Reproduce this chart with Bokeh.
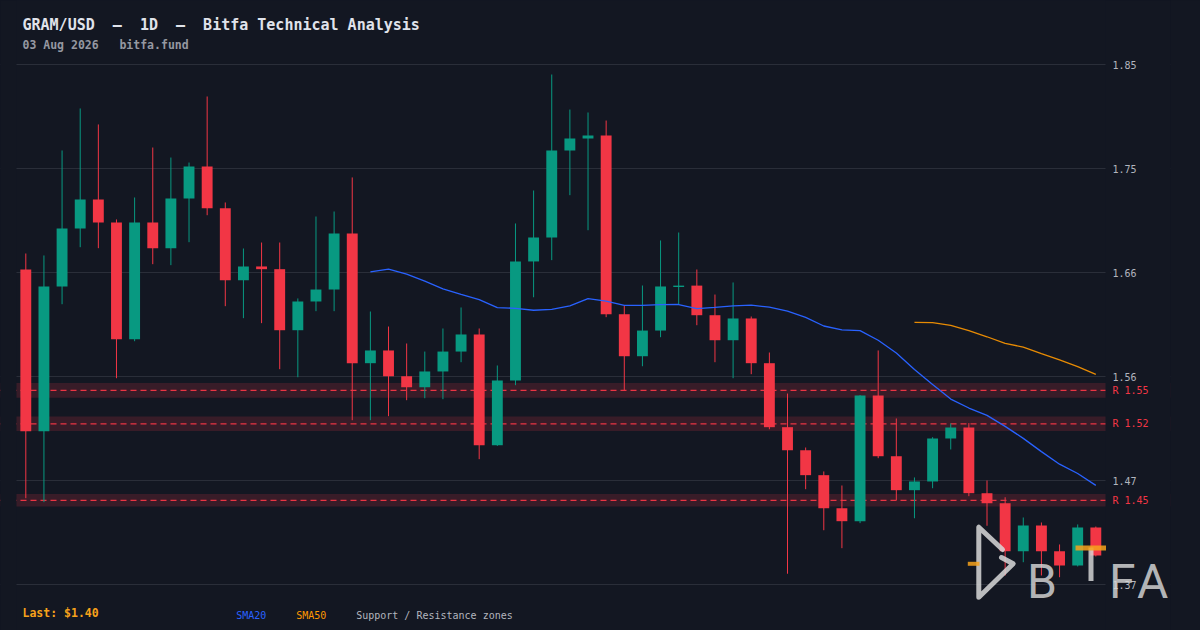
import pandas as pd
from bokeh.plotting import figure
from bokeh.models import (ColumnDataSource, Range1d, FixedTicker, PrintfTickFormatter,
                          Label, BoxAnnotation, Span, GlobalInlineStyleSheet)
from bokeh.embed import file_html
from bokeh.resources import INLINE

# ---------------- data ----------------
opens = [1.6616, 1.5130, 1.6460, 1.6993, 1.7259, 1.7048, 1.5975, 1.7048, 1.6812, 1.7269,
         1.7563, 1.7179, 1.6518, 1.6644, 1.6619, 1.6058, 1.6322, 1.6432, 1.6947, 1.5755,
         1.5872, 1.5635, 1.5534, 1.5679, 1.5862, 1.6019, 1.5001, 1.5596, 1.6690, 1.6910,
         1.7710, 1.7820, 1.7848, 1.6205, 1.5819, 1.6055, 1.6455, 1.6468, 1.6196, 1.5966,
         1.6166, 1.5755, 1.5167, 1.4955, 1.4726, 1.4422, 1.4303, 1.5458, 1.4900, 1.4588,
         1.4668, 1.5063, 1.5164, 1.4560, 1.4468, 1.4027, 1.4263, 1.4027, 1.3896, 1.4245]
highs = [1.6763, 1.6745, 1.7710, 1.8096, 1.7949, 1.7076, 1.7278, 1.7737, 1.7645, 1.7599,
         1.8206, 1.7232, 1.6809, 1.6864, 1.6864, 1.6350, 1.7103, 1.7149, 1.7462, 1.6230,
         1.6092, 1.5936, 1.5862, 1.6074, 1.6267, 1.6074, 1.5734, 1.7039, 1.7342, 1.8408,
         1.8086, 1.8059, 1.7985, 1.6285, 1.6469, 1.6883, 1.6956, 1.6616, 1.6386, 1.6497,
         1.6184, 1.5853, 1.5476, 1.4980, 1.4760, 1.4631, 1.5462, 1.5872, 1.5247, 1.4705,
         1.5075, 1.5201, 1.5205, 1.4677, 1.4523, 1.4337, 1.4291, 1.4089, 1.4273, 1.4254]
lows = [1.4514, 1.4478, 1.6297, 1.6821, 1.6812, 1.5617, 1.5957, 1.6665, 1.6656, 1.6867,
        1.7115, 1.6279, 1.6169, 1.6123, 1.5700, 1.5626, 1.6233, 1.6233, 1.5231, 1.5231,
        1.5268, 1.5415, 1.5433, 1.5424, 1.5764, 1.4873, 1.4995, 1.5553, 1.6361, 1.6702,
        1.7299, 1.6977, 1.6178, 1.5501, 1.5727, 1.5994, 1.6292, 1.6104, 1.5764, 1.5617,
        1.5654, 1.5148, 1.3820, 1.4597, 1.4220, 1.4055, 1.4285, 1.4882, 1.4496, 1.4330,
        1.4606, 1.4962, 1.4533, 1.4261, 1.3804, 1.3926, 1.3804, 1.3788, 1.3887, 1.3979]
closes = [1.5130, 1.6460, 1.6993, 1.7259, 1.7048, 1.5975, 1.7048, 1.6812, 1.7269, 1.7563,
          1.7179, 1.6518, 1.6644, 1.6619, 1.6058, 1.6322, 1.6432, 1.6947, 1.5755, 1.5872,
          1.5635, 1.5534, 1.5679, 1.5862, 1.6019, 1.5001, 1.5596, 1.6690, 1.6910, 1.7710,
          1.7820, 1.7848, 1.6205, 1.5819, 1.6055, 1.6460, 1.6468, 1.6196, 1.5966, 1.6166,
          1.5755, 1.5167, 1.4955, 1.4726, 1.4422, 1.4303, 1.5458, 1.4900, 1.4588, 1.4668,
          1.5063, 1.5164, 1.4560, 1.4468, 1.4027, 1.4263, 1.4027, 1.3896, 1.4245, 1.3988]

zone_levels = [1.5505, 1.5198, 1.4495]
zone_half_widths = [0.0067, 0.0067, 0.0058]
zone_labels = ["R 1.55", "R 1.52", "R 1.45"]

price_ticks = [1.372, 1.4676, 1.5632, 1.6588, 1.7544, 1.85]

NB = "\u00a0"  # non-breaking space keeps the monospace spacing in SVG text
title_text = f"GRAM/USD{NB*2}\u2014{NB*2}1D{NB*2}\u2014{NB*2}Bitfa{NB}Technical{NB}Analysis"
subtitle_text = f"03{NB}Aug{NB}2026{NB*3}bitfa.fund"
legend_items = ["SMA20", "SMA50", "Support / Resistance zones"]

# ---------------- styling ----------------
BG = "#131722"
UP = "#089981"
DOWN = "#f23645"
GRID = "#2a2e39"
AXIS_TXT = "#b2b5be"
BLUE = "#2962ff"
ORANGE = "#ff9800"
LOGO = "#d9d9d9"
MONO = "DejaVu Sans Mono"

W, H = 1200, 630
RIGHT_PANEL = 30           # width reserved for the (fixed-location) price axis
FRAME_W = W - RIGHT_PANEL  # frame spans x 0..1170, y 0..630

# reference-pixel -> data helpers (used only to place decorations/text)
X0_PX, DX_PX = 25.3, 18.136
Y0_PX, PRICE0, DPRICE = 64.0, 1.85, 0.000919


def xd(px):
    return (px - X0_PX) / DX_PX


def yd(py):
    return PRICE0 - DPRICE * (py - Y0_PX)


idx = list(range(len(closes)))
colors = [UP if c >= o else DOWN for o, c in zip(opens, closes)]
src = ColumnDataSource(dict(
    x=idx, o=opens, h=highs, l=lows, c=closes,
    top=[max(o, c) for o, c in zip(opens, closes)],
    bottom=[min(o, c) for o, c in zip(opens, closes)],
    color=colors,
))

p = figure(width=W, height=H, output_backend="svg", toolbar_location=None,
           x_range=Range1d(xd(0), xd(FRAME_W)), y_range=Range1d(yd(H), yd(0)),
           x_axis_location=None, y_axis_location="right",
           min_border_left=0, min_border_right=RIGHT_PANEL, min_border_top=0,
           min_border_bottom=0,
           background_fill_color=BG, border_fill_color=BG, outline_line_color=None)
p.stylesheets = [GlobalInlineStyleSheet(
    css="html, body { margin: 0; padding: 0; overflow: hidden; background-color: #131722; }")]
p.xgrid.visible = False

ax = p.yaxis[0]
ax.fixed_location = xd(1110)
ax.ticker = FixedTicker(ticks=price_ticks)
ax.formatter = PrintfTickFormatter(format="%.2f")
ax.axis_line_color = None
ax.major_tick_line_color = None
ax.minor_tick_line_color = None
ax.major_tick_out = 0
ax.major_tick_in = 0
ax.major_label_standoff = 2
ax.major_label_text_font = MONO
ax.major_label_text_font_size = "10px"
ax.major_label_text_color = AXIS_TXT
p.ygrid.ticker = FixedTicker(ticks=price_ticks)
p.ygrid.grid_line_color = GRID
p.ygrid.grid_line_width = 1

# support / resistance zones
for lvl, half in zip(zone_levels, zone_half_widths):
    p.add_layout(BoxAnnotation(bottom=lvl - half, top=lvl + half, fill_color=DOWN,
                               fill_alpha=0.17, line_color=None, level="underlay"))
    p.add_layout(Span(location=lvl, dimension="width", line_color=DOWN, line_alpha=0.95,
                      line_dash="6 4", line_width=1.2, level="underlay"))

# keep grid / zones inside the plotting area (16..1105 px)
p.add_layout(BoxAnnotation(right=xd(16), fill_color=BG, fill_alpha=1,
                           line_color=None, level="underlay"))
p.add_layout(BoxAnnotation(left=xd(1105), fill_color=BG, fill_alpha=1,
                           line_color=None, level="underlay"))

for lvl, lab in zip(zone_levels, zone_labels):
    p.add_layout(Label(x=xd(1112), y=lvl, text=lab, text_font=MONO, text_font_size="10px",
                       text_color=DOWN, text_baseline="middle", text_align="left"))

# candles
p.segment(x0="x", y0="l", x1="x", y1="h", line_color="color", line_width=1, source=src)
p.vbar(x="x", width=0.6, top="top", bottom="bottom", fill_color="color",
       line_color=None, source=src)

# moving averages
sma20 = pd.Series(closes).rolling(20).mean()
sma50 = pd.Series(closes).rolling(50).mean()
p.line(idx[19:], list(sma20[19:]), line_color=BLUE, line_width=1.3)
p.line(idx[49:], list(sma50[49:]), line_color=ORANGE, line_width=1.3, line_alpha=0.9)

# watermark logo
p.line([xd(1002), xd(978.3), xd(978.3), xd(1012.7), xd(1001)],
       [yd(549), yd(526.7), yd(596.7), yd(563.3), yd(557)],
       line_color=LOGO, line_alpha=0.85, line_width=5, line_join="round", line_cap="round")
p.line([xd(967.3), xd(979)], [yd(563.3), yd(563.3)], line_color="#f7a21b",
       line_alpha=0.85, line_width=4)
for letter, lx in (("B", 1026.4), ("F", 1108.6), ("A", 1136.5)):
    p.add_layout(Label(x=xd(lx), y=yd(580.5), text=letter, text_font="Roboto",
                       text_font_size="48px", text_color=LOGO, text_alpha=0.82,
                       text_baseline="alphabetic", text_align="left", level="guide"))
p.add_layout(BoxAnnotation(left=xd(1088), right=xd(1093), bottom=yd(580.5), top=yd(547),
                           fill_color=LOGO, fill_alpha=0.82, line_color=None))
p.add_layout(BoxAnnotation(left=xd(1075), right=xd(1105.5), bottom=yd(550), top=yd(545),
                           fill_color="#f7a21b", fill_alpha=0.85, line_color=None))

# header texts
p.add_layout(Label(x=xd(22), y=yd(24), text=title_text, text_font=MONO,
                   text_font_size="15px", text_font_style="bold", text_color="#e0e3eb",
                   text_baseline="middle"))
p.add_layout(Label(x=xd(22), y=yd(44.8), text=subtitle_text, text_font=MONO,
                   text_font_size="11.5px", text_font_style="bold", text_color="#9598a1",
                   text_baseline="middle"))

# footer texts
p.add_layout(Label(x=xd(22), y=yd(612.8), text=f"Last: ${closes[-1]:.2f}", text_font=MONO,
                   text_font_size="11.5px", text_font_style="bold", text_color="#f7a21b",
                   text_baseline="middle"))
for text, lx, col in zip(legend_items, (235.7, 295.7, 355.7), (BLUE, ORANGE, AXIS_TXT)):
    p.add_layout(Label(x=xd(lx), y=yd(614.8), text=text, text_font=MONO,
                       text_font_size="10px", text_color=col, text_baseline="middle"))

open("out.html", "w").write(file_html(p, INLINE))
